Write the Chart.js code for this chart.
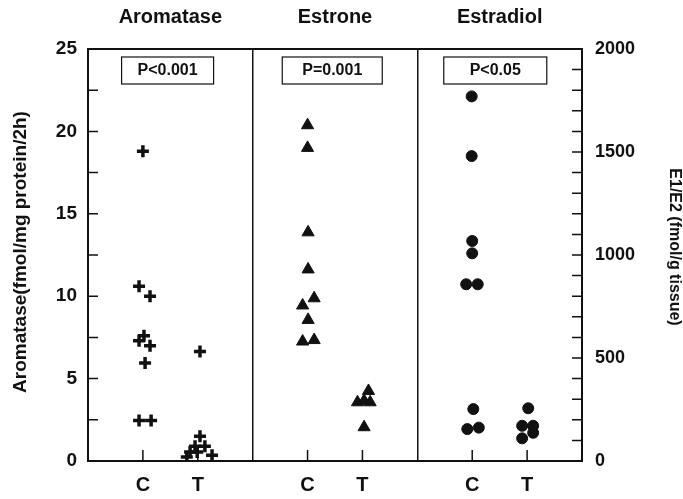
<!DOCTYPE html>
<html>
<head>
<meta charset="utf-8">
<script src="https://cdn.jsdelivr.net/npm/chart.js@4.4.1/dist/chart.umd.min.js"></script>
<style>
  html, body { margin: 0; padding: 0; background: #fff; }
  canvas { display: block; }
</style>
</head>
<body>
<canvas id="scatter-chart" width="683" height="499"></canvas>
<script>
// panels and groups
const panelTitles = ['Aromatase', 'Estrone', 'Estradiol'];
const pLabels = ['P<0.001', 'P=0.001', 'P<0.05'];
const groupLabels = ['C', 'T'];
const groupPositions = [1, 2, 4, 5, 7, 8];
const panelSeparators = [3, 6];

// aromatase (left axis), x = group position with a little spread
const aromataseC = [18.8, 10.6, 10.0, 7.6, 7.3, 7.0, 5.95, 2.45, 2.45];
const aromataseCx = [1.00, 0.93, 1.13, 1.02, 0.93, 1.13, 1.04, 0.93, 1.15];
const aromataseT = [6.65, 1.5, 0.9, 0.9, 0.55, 0.55, 0.35, 0.25];
const aromataseTx = [2.04, 2.04, 1.95, 2.13, 1.86, 1.99, 2.26, 1.80];

// estrone and estradiol (right axis)
const estroneC = [1630, 1520, 1110, 930, 790, 755, 685, 580, 587];
const estroneCx = [4.00, 4.00, 4.01, 4.01, 4.12, 3.91, 4.01, 3.91, 4.12];
const estroneT = [340, 285, 293, 285, 164];
const estroneTx = [5.11, 4.91, 5.03, 5.14, 5.03];
const estradiolC = [1770, 1480, 1068, 1008, 858, 858, 252, 155, 162];
const estradiolCx = [6.99, 6.99, 7.00, 7.00, 6.89, 7.10, 7.02, 6.91, 7.12];
const estradiolT = [256, 171, 171, 137, 110];
const estradiolTx = [8.02, 7.91, 8.11, 8.11, 7.91];

const ink = '#111';
const fontFam = '"Liberation Sans", Arial, Helvetica, sans-serif';

function pts(xs, ys) {
    return ys.map((v, i) => ({ x: xs[i], y: v }));
}

// frame, inward ticks, p-value boxes, panel titles, axis titles
const framePlugin = {
    id: 'frame',
    afterDraw(chart) {
        const ctx = chart.ctx;
        const a = chart.chartArea;
        const sx = chart.scales.x, sy = chart.scales.y, sy2 = chart.scales.y2;
        ctx.save();
        ctx.strokeStyle = ink;
        ctx.lineWidth = 2;
        ctx.strokeRect(a.left, a.top, a.right - a.left, a.bottom - a.top);

        ctx.lineWidth = 1.5;
        ctx.beginPath();
        for (let v = 2.5; v < 25; v += 2.5) {
            const py = sy.getPixelForValue(v);
            ctx.moveTo(a.left, py); ctx.lineTo(a.left + 10, py);
        }
        for (let v = 100; v < 2000; v += 100) {
            const py = sy2.getPixelForValue(v);
            ctx.moveTo(a.right, py); ctx.lineTo(a.right - 10, py);
        }
        groupPositions.forEach(v => {
            const px = sx.getPixelForValue(v);
            ctx.moveTo(px, a.bottom); ctx.lineTo(px, a.bottom - 11);
        });
        ctx.stroke();

        // p-value boxes
        const boxW = [92, 100, 103];
        const boxC = [1.45, 4.45, 7.42];
        ctx.fillStyle = ink;
        ctx.textAlign = 'center';
        ctx.textBaseline = 'middle';
        ctx.font = 'bold 16px ' + fontFam;
        pLabels.forEach((t, i) => {
            const cx = sx.getPixelForValue(boxC[i]);
            ctx.lineWidth = 1.2;
            ctx.strokeRect(cx - boxW[i] / 2, a.top + 8, boxW[i], 27);
            ctx.fillText(t, cx, a.top + 22);
        });

        // panel titles
        ctx.font = 'bold 20px ' + fontFam;
        panelTitles.forEach((t, i) => {
            ctx.fillText(t, sx.getPixelForValue(i * 3 + 1.5), 17);
        });

        // axis titles
        ctx.save();
        ctx.translate(21, 252);
        ctx.rotate(-Math.PI / 2);
        ctx.font = 'bold 19px ' + fontFam;
        ctx.fillText('Aromatase(fmol/mg protein/2h)', 0, 0);
        ctx.restore();
        ctx.save();
        ctx.translate(674, 247);
        ctx.rotate(Math.PI / 2);
        ctx.font = 'bold 16px ' + fontFam;
        ctx.fillText('E1/E2 (fmol/g tissue)', 0, 0);
        ctx.restore();
        ctx.restore();
    }
};

const crossStyle = { pointStyle: 'cross', pointRadius: 6, borderWidth: 3.5, borderColor: ink, backgroundColor: ink };
const triStyle = { pointStyle: 'triangle', pointRadius: 7, borderWidth: 1, borderColor: ink, backgroundColor: ink };
const dotStyle = { pointStyle: 'circle', pointRadius: 5.5, borderWidth: 1, borderColor: ink, backgroundColor: ink };

const config = {
    type: 'scatter',
    data: {
        datasets: [
            Object.assign({ label: 'Aromatase C', data: pts(aromataseCx, aromataseC), yAxisID: 'y' }, crossStyle),
            Object.assign({ label: 'Aromatase T', data: pts(aromataseTx, aromataseT), yAxisID: 'y' }, crossStyle),
            Object.assign({ label: 'Estrone C', data: pts(estroneCx, estroneC), yAxisID: 'y2' }, triStyle),
            Object.assign({ label: 'Estrone T', data: pts(estroneTx, estroneT), yAxisID: 'y2' }, triStyle),
            Object.assign({ label: 'Estradiol C', data: pts(estradiolCx, estradiolC), yAxisID: 'y2' }, dotStyle),
            Object.assign({ label: 'Estradiol T', data: pts(estradiolTx, estradiolT), yAxisID: 'y2' }, dotStyle)
        ]
    },
    options: {
        responsive: false,
        animation: false,
        layout: { padding: { top: 49, left: 0, right: 0, bottom: 0 } },
        plugins: { legend: { display: false }, tooltip: { enabled: false } },
        scales: {
            x: {
                type: 'linear',
                min: 0,
                max: 9,
                afterBuildTicks: s => { s.ticks = groupPositions.concat(panelSeparators).sort((p, q) => p - q).map(v => ({ value: v })); },
                afterFit: s => { s.height = 38; },
                ticks: {
                    padding: 12,
                    color: ink,
                    font: { family: fontFam, size: 20, weight: 'bold' },
                    callback: v => {
                        const i = groupPositions.indexOf(v);
                        return i < 0 ? '' : groupLabels[i % 2];
                    }
                },
                grid: {
                    drawTicks: false,
                    lineWidth: 1.5,
                    color: c => (c.tick && panelSeparators.includes(c.tick.value)) ? ink : 'rgba(0,0,0,0)'
                },
                border: { display: false }
            },
            y: {
                position: 'left',
                min: 0,
                max: 25,
                afterFit: s => { s.width = 88; },
                ticks: { stepSize: 5, padding: 11, color: ink, font: { family: fontFam, size: 19, weight: 'bold' } },
                grid: { display: false, drawTicks: false },
                border: { display: false }
            },
            y2: {
                position: 'right',
                min: 0,
                max: 2000,
                afterFit: s => { s.width = 101; },
                ticks: { stepSize: 500, padding: 13, color: ink, font: { family: fontFam, size: 18, weight: 'bold' }, callback: v => String(v) },
                grid: { display: false, drawTicks: false },
                border: { display: false }
            }
        }
    },
    plugins: [framePlugin]
};

var myChart = new Chart(document.getElementById('scatter-chart'), config);
</script>
</body>
</html>
